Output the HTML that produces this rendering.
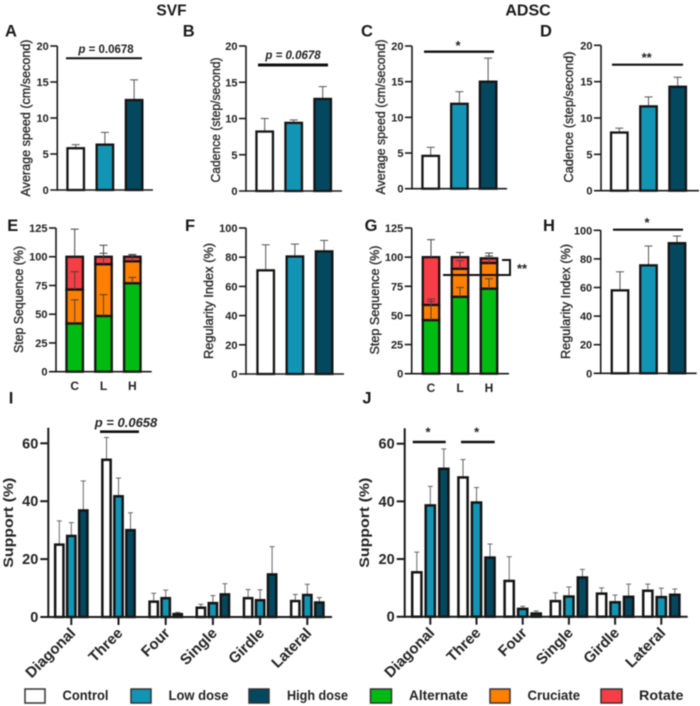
<!DOCTYPE html>
<html lang="en">
<head>
<meta charset="utf-8">
<title>SVF and ADSC gait analysis</title>
<style>
  html, body { margin: 0; padding: 0; background: #fff; }
  body { width: 700px; height: 706px; overflow: hidden; }
  svg { display: block; filter: blur(0.4px); font-family: "Liberation Sans", Arial, sans-serif; }
  text { fill: #222; }
  .head { font-weight: bold; fill: #1a1a1a; }
  .tick { font-size: 11px; font-weight: bold; text-anchor: end; }
  .tick-big { font-size: 14.5px; font-weight: bold; text-anchor: end; }
  .ytitle { font-size: 12.5px; text-anchor: middle; stroke: #222; stroke-width: 0.3px; }
  .ytitle-big { font-size: 14px; font-weight: bold; text-anchor: middle; }
  .cat { font-size: 12px; font-weight: bold; text-anchor: middle; }
  .cat-big { font-size: 15px; font-weight: bold; text-anchor: end; }
  .legend { font-size: 14px; font-weight: bold; }
  .sig { font-size: 12px; font-weight: bold; text-anchor: middle; }
</style>
</head>
<body>
<svg id="chart" width="700" height="706" viewBox="0 0 700 706" xmlns="http://www.w3.org/2000/svg">
  <text class="head" x="171.5" y="15.5" font-size="15.5" text-anchor="middle">SVF</text>
  <text class="head" x="528" y="15.5" font-size="16" text-anchor="middle">ADSC</text>

  <g>
    <g>
      <rect x="25" y="689" width="20" height="14" fill="#fff" stroke="#333" stroke-width="1.5"/>
      <text class="legend" x="62.5" y="700" textLength="46" lengthAdjust="spacingAndGlyphs">Control</text>
    </g>
    <g>
      <rect x="131" y="689" width="20" height="14" fill="#1295b5" stroke="#333" stroke-width="1.5"/>
      <text class="legend" x="168.5" y="700" textLength="60" lengthAdjust="spacingAndGlyphs">Low dose</text>
    </g>
    <g>
      <rect x="249" y="689" width="20" height="14" fill="#03485f" stroke="#333" stroke-width="1.5"/>
      <text class="legend" x="287" y="700" textLength="61" lengthAdjust="spacingAndGlyphs">High dose</text>
    </g>
    <g>
      <rect x="370.5" y="689" width="21" height="14" fill="#00bb11" stroke="#333" stroke-width="1.5"/>
      <text class="legend" x="409" y="700" textLength="59" lengthAdjust="spacingAndGlyphs">Alternate</text>
    </g>
    <g>
      <rect x="490" y="689" width="20" height="14" fill="#ff8000" stroke="#333" stroke-width="1.5"/>
      <text class="legend" x="527.5" y="700" textLength="52.5" lengthAdjust="spacingAndGlyphs">Cruciate</text>
    </g>
    <g>
      <rect x="601" y="689" width="21" height="14" fill="#f73d45" stroke="#333" stroke-width="1.5"/>
      <text class="legend" x="639" y="700" textLength="44.5" lengthAdjust="spacingAndGlyphs">Rotate</text>
    </g>
  </g>
</svg>

<script>
// ---- data ----
const simpleTicks20 = [0, 5, 10, 15, 20];
const percentTicks = [0, 20, 40, 60, 80, 100];
const stackTicks = [0, 25, 50, 75, 100, 125];
const supportTicks = [0, 20, 40, 60];
const stackCategories = ['C', 'L', 'H'];
const gaitCategories = ['Diagonal', 'Three', 'Four', 'Single', 'Girdle', 'Lateral'];
const doseNames = ['control', 'low-dose', 'high-dose'];

const aMeans = [5.8, 6.3, 12.5];
const aUpper = [6.3, 8.0, 15.3];
const bMeans = [8.2, 9.4, 12.7];
const bUpper = [10.0, 9.8, 14.4];
const cMeans = [4.6, 11.9, 15.0];
const cUpper = [5.8, 13.6, 18.3];
const dMeans = [8.0, 11.6, 14.3];
const dUpper = [8.6, 12.9, 15.6];
const fMeans = [71, 80.5, 84];
const fUpper = [88.5, 89, 91.5];
const hMeans = [58, 75.5, 91];
const hUpper = [71, 89, 96];

const eAlternate = [42, 48.5, 77];
const eCruciate = [29.5, 45, 19];
const eRotate = [28.5, 6.5, 4];
const eAlternateUpper = [62.5, 67, 82];
const eCruciateUpper = [87, 103, 101];
const eRotateUpper = [124, 110, 102];

const gAlternate = [46, 66, 73];
const gCruciate = [13, 24, 22];
const gRotate = [41, 10, 4];
const gAlternateUpper = [62, 74, 81.5];
const gCruciateUpper = [64, 97, 101];
const gRotateUpper = [115, 104, 103.5];

const iControl = [25, 54.3, 5.3, 3.2, 6.5, 5.5];
const iLow = [28, 41.7, 6.5, 4.8, 5.8, 7.6];
const iHigh = [36.8, 30, 1, 7.8, 14.7, 5];
const iControlUpper = [33.2, 62, 8.2, 4.4, 9.5, 7.8];
const iLowUpper = [32.6, 48, 9.3, 7.4, 9.4, 11.3];
const iHighUpper = [47, 36, 1.6, 11.5, 24.3, 6.7];

const jControl = [15.4, 48.3, 12.4, 5.4, 8, 9];
const jLow = [38.6, 39.6, 2.7, 7, 5, 6.8];
const jHigh = [51.3, 20.5, 1.1, 13.6, 6.9, 7.6];
const jControlUpper = [22.4, 54.5, 20.8, 8.3, 10, 11.3];
const jLowUpper = [45.2, 44.8, 3.6, 10.3, 7.5, 9.9];
const jHighUpper = [58.2, 25.2, 2, 16.4, 11.3, 9.6];

// ---- styling and layout ----
const doseColors = ['#ffffff', '#1295b5', '#03485f'];
const gaitColors = ['#00bb11', '#ff8000', '#f73d45'];
const svg = document.getElementById('chart');
const NS = 'http://www.w3.org/2000/svg';

function node(parent, tag, attrs, content) {
  const el = document.createElementNS(NS, tag);
  for (const k in attrs) el.setAttribute(k, attrs[k]);
  if (content !== undefined) el.textContent = content;
  parent.appendChild(el);
  return el;
}
function line(parent, x1, y1, x2, y2, color, width) {
  return node(parent, 'line', { x1, y1, x2, y2, stroke: color, 'stroke-width': width });
}
function yScale(p) {
  return v => p.y0 - (v - p.axisMin) / (p.axisMax - p.axisMin) * (p.y0 - p.yAtMax);
}
function panelGroup(id) {
  const g = node(svg, 'g', {});
  
  
  return g;
}
function drawLetter(g, id, x, y) {
  const t = node(g, 'text', { class: 'head', x, y, 'font-size': 16.5, 'text-anchor': 'middle' }, id);
  
  
}
function drawAxes(g, p, ticks, big) {
  const y = yScale(p);
  const w = big ? 2 : 1.6;
  const ax = node(g, 'g', {});
  
  
  line(ax, p.x0, p.y0 + w / 2, p.x0, p.yTop !== undefined ? p.yTop : p.yAtMax, '#1a1a1a', w);
  line(ax, p.x0 - (big ? 8 : 7), p.y0, p.xEnd, p.y0, '#1a1a1a', w);
  ticks.forEach(v => {
    if (v !== p.axisMin) line(ax, p.x0 - (big ? 8 : 7), y(v), p.x0, y(v), '#1a1a1a', w);
    const t = node(ax, 'text', { class: big ? 'tick-big' : 'tick', x: p.x0 - (big ? 10 : 8.5), y: y(v) + (big ? 5 : 4) }, v);
    
    
  });
}
function drawYTitle(g, p, big) {
  const t = node(g, 'text', {
    class: big ? 'ytitle-big' : 'ytitle',
    x: 0, y: 0,
    transform: 'translate(' + p.titleX + ',' + p.titleY + ') rotate(-90)',
    textLength: p.titleLen, lengthAdjust: 'spacingAndGlyphs'
  }, p.title);
  
  
}
function drawError(g, x, yBase, yTop, capHalf, color) {
  const e = node(g, 'g', {});
  
  
  line(e, x, yBase, x, yTop, color, 1);
  line(e, x - capHalf, yTop, x + capHalf, yTop, color, 1);
}
function drawBar(g, name, x, w, yA, yB, fill, sw) {
  const r = node(g, 'rect', { x: x - w / 2, y: Math.min(yA, yB), width: w, height: Math.abs(yB - yA), fill, stroke: '#141414', 'stroke-width': sw });
  
  
}
function drawSimple(p) {
  const g = panelGroup(p.id);
  const y = yScale(p);
  drawLetter(g, p.id, p.letterX, p.letterY);
  p.means.forEach((m, i) => {
    const x = p.c0 + i * p.step;
    drawError(g, x, y(m), y(p.upper[i]), 4, '#555');
    drawBar(g, 'bar-' + p.id + '-' + doseNames[i], x, 16.5, y(m), p.y0, doseColors[i], 2.3);
  });
  drawAxes(g, p, p.ticks, false);
  drawYTitle(g, p, false);
}
function drawStack(p) {
  const g = panelGroup(p.id);
  const y = yScale(p);
  drawLetter(g, p.id, p.letterX, p.letterY);
  stackCategories.forEach((c, i) => {
    const x = p.c0 + i * p.step;
    let base = 0;
    p.layers.forEach((layer, k) => {
      const top = base + layer[i];
      drawBar(g, 'stack-' + p.id + '-' + c + '-segment-' + k, x, 16.5, y(top), y(base), gaitColors[k], 2.3);
      base = top;
    });
    base = 0;
    p.layers.forEach((layer, k) => {
      base += layer[i];
      drawError(g, x, y(base), y(p.uppers[k][i]), 4, '#444');
    });
    const t = node(g, 'text', { class: 'cat', x, y: p.catY }, c);
    
    
  });
  drawAxes(g, p, stackTicks, false);
  drawYTitle(g, p, false);
}
function drawGrouped(p) {
  const g = panelGroup(p.id);
  const y = yScale(p);
  drawLetter(g, p.id, p.letterX, p.letterY);
  gaitCategories.forEach((c, i) => {
    const cx = p.c0 + i * p.step;
    p.series.forEach((s, k) => {
      const x = cx + (k - 1) * p.barStep;
      drawError(g, x, y(s[i]), y(p.uppers[k][i]), 2.5, '#666');
      drawBar(g, 'bar-' + p.id + '-' + c.toLowerCase() + '-' + doseNames[k], x, p.barW, y(s[i]), p.y0, doseColors[k], 2.5);
    });
    line(g, cx, p.y0, cx, p.y0 + 8, '#1a1a1a', 2);
    const t = node(g, 'text', { class: 'cat-big', x: 0, y: 0, transform: 'translate(' + (cx + 5) + ',' + (p.y0 + 17) + ') rotate(-45)' }, c);
    
    
  });
  drawAxes(g, p, supportTicks, true);
  drawYTitle(g, p, true);
}
function sigLine(name, x1, x2, y, w) {
  const l = line(svg, x1, y, x2, y, '#111', w);
  
  
}
function sigText(name, x, y, txt, size, italicAll) {
  const t = node(svg, 'text', { class: 'sig', x, y, 'font-size': size, style: 'font-size:' + size + 'px' + (italicAll ? ';font-style:italic' : '') });
  
  
  const p = node(t, 'tspan', { 'font-style': 'italic' }, 'p');
  node(t, 'tspan', {}, txt);
}
function sigStar(name, x, y, txt) {
  const t = node(svg, 'text', { class: 'sig', x, y, style: 'font-size:13px' }, txt);
  
  
}

// ---- panels ----
drawSimple({ id: 'A', letterX: 11, letterY: 36.5, means: aMeans, upper: aUpper, ticks: simpleTicks20, axisMin: 0, axisMax: 20, x0: 57.3, xEnd: 153, y0: 190, yAtMax: 46, c0: 75.7, step: 29.2, title: 'Average speed (cm/second)', titleX: 30, titleY: 118, titleLen: 157 });
drawSimple({ id: 'B', letterX: 188.7, letterY: 36.5, means: bMeans, upper: bUpper, ticks: simpleTicks20, axisMin: 0, axisMax: 20, x0: 246, xEnd: 342, y0: 191, yAtMax: 46, c0: 264.7, step: 29, title: 'Cadence (step/second)', titleX: 220, titleY: 120, titleLen: 125 });
drawSimple({ id: 'C', letterX: 367, letterY: 36.5, means: cMeans, upper: cUpper, ticks: simpleTicks20, axisMin: 0, axisMax: 20, x0: 412, xEnd: 507, y0: 188.7, yAtMax: 46, c0: 430.7, step: 28.7, title: 'Average speed (cm/second)', titleX: 385, titleY: 117, titleLen: 155 });
drawSimple({ id: 'D', letterX: 546, letterY: 36.5, means: dMeans, upper: dUpper, ticks: simpleTicks20, axisMin: 0, axisMax: 20, x0: 601, xEnd: 699, y0: 190.7, yAtMax: 45.3, c0: 619.3, step: 29.2, title: 'Cadence (step/second)', titleX: 573, titleY: 117, titleLen: 131 });

drawStack({ id: 'E', letterX: 12.7, letterY: 231, layers: [eAlternate, eCruciate, eRotate], uppers: [eAlternateUpper, eCruciateUpper, eRotateUpper], axisMin: 0, axisMax: 125, x0: 56, xEnd: 151.7, y0: 371.7, yAtMax: 228, c0: 74.7, step: 28.8, catY: 390, title: 'Step Sequence (%)', titleX: 23, titleY: 299.5, titleLen: 107 });
drawSimple({ id: 'F', letterX: 190, letterY: 231, means: fMeans, upper: fUpper, ticks: percentTicks, axisMin: 0, axisMax: 100, x0: 246, xEnd: 344, y0: 374, yAtMax: 228, c0: 265.7, step: 29.2, title: 'Regularity Index (%)', titleX: 213, titleY: 301, titleLen: 116 });
drawStack({ id: 'G', letterX: 371, letterY: 231, layers: [gAlternate, gCruciate, gRotate], uppers: [gAlternateUpper, gCruciateUpper, gRotateUpper], axisMin: 0, axisMax: 125, x0: 411.7, xEnd: 509, y0: 373.7, yAtMax: 228, c0: 431, step: 29, catY: 392, title: 'Step Sequence (%)', titleX: 379, titleY: 300, titleLen: 109 });
drawSimple({ id: 'H', letterX: 549, letterY: 231, means: hMeans, upper: hUpper, ticks: percentTicks, axisMin: 0, axisMax: 100, x0: 600.7, xEnd: 696.7, y0: 373.3, yAtMax: 230.3, c0: 620, step: 28.5, title: 'Regularity Index (%)', titleX: 570, titleY: 301.5, titleLen: 115 });

drawGrouped({ id: 'I', letterX: 11, letterY: 403.5, series: [iControl, iLow, iHigh], uppers: [iControlUpper, iLowUpper, iHighUpper], axisMin: 0, axisMax: 60, x0: 48.3, xEnd: 332, y0: 617, yAtMax: 443.3, yTop: 427.7, c0: 71.3, step: 47.2, barStep: 12, barW: 8.3, title: 'Support (%)', titleX: 13, titleY: 522.7, titleLen: 90 });
drawGrouped({ id: 'J', letterX: 367, letterY: 403.5, series: [jControl, jLow, jHigh], uppers: [jControlUpper, jLowUpper, jHighUpper], axisMin: 0, axisMax: 60, x0: 404.7, xEnd: 687.7, y0: 616.7, yAtMax: 443.7, yTop: 428.3, c0: 430.3, step: 46.2, barStep: 13.5, barW: 9.2, title: 'Support (%)', titleX: 369, titleY: 522.7, titleLen: 90 });

// ---- significance annotations ----
sigLine('significance-line-a', 66, 142, 58.3, 2);
sigText('p-value-a', 106, 53, ' = 0.0678', 11.5, false);
sigLine('significance-line-b', 258, 328, 65, 3);
sigText('p-value-b', 293, 59, ' = 0.0678', 11.5, true);
sigLine('significance-line-c', 424, 494, 51.7, 2.4);
sigStar('significance-star-c', 458, 50, '*');
sigLine('significance-line-d', 612, 683, 64.7, 2.2);
sigStar('significance-star-d', 646.7, 62, '**');
sigLine('significance-line-h', 613, 683, 229.7, 2.2);
sigStar('significance-star-h', 647, 227, '*');
sigLine('significance-line-i', 100, 139, 431.7, 2.6);
sigText('p-value-i', 126, 427, ' = 0.0658', 13, true);
sigLine('significance-line-j-diagonal', 412.7, 445.7, 442, 2.6);
sigLine('significance-line-j-three', 461, 494.7, 442, 2.6);
sigStar('significance-star-j-diagonal', 428, 436.5, '*');
sigStar('significance-star-j-three', 476.7, 436.5, '*');

const bracket = node(svg, 'path', { d: 'M443 275 H510 V260 H502', fill: 'none', stroke: '#111', 'stroke-width': 2 });


sigStar('significance-star-g', 522, 273, '**');
</script>
</body>
</html>
